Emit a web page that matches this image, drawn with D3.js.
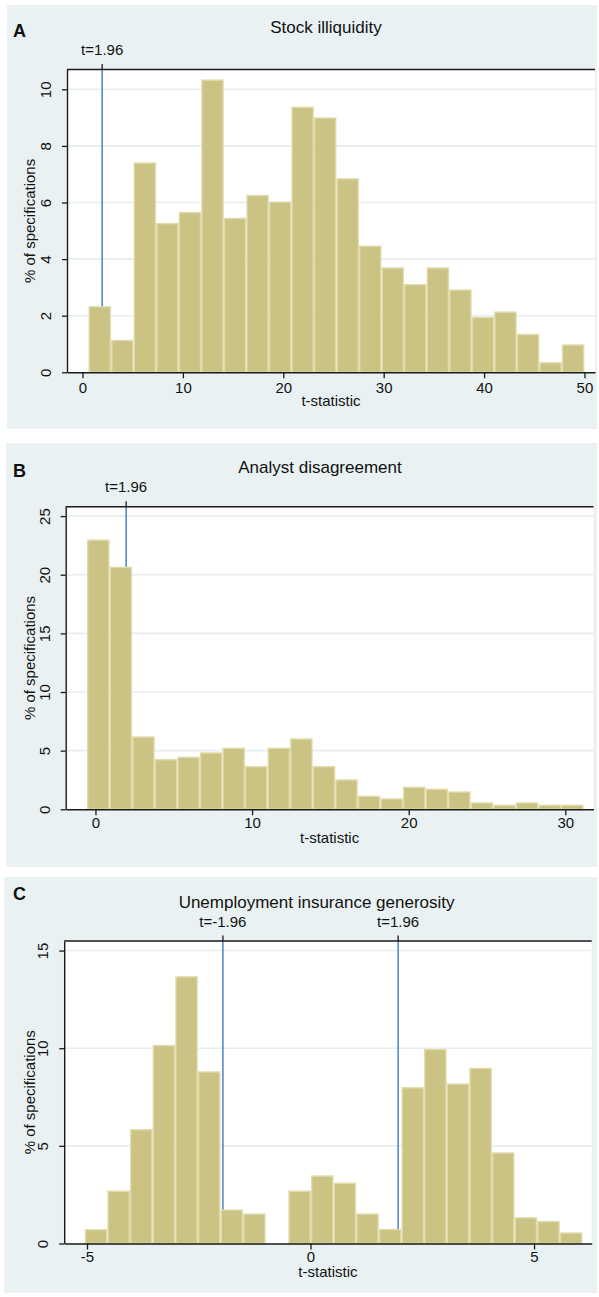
<!DOCTYPE html>
<html><head><meta charset="utf-8">
<script src="https://cdn.jsdelivr.net/npm/d3@7"></script>
<style>
html,body{margin:0;padding:0;background:#fff;}
svg{display:block;}
text{font-family:"Liberation Sans",Arial,Helvetica,sans-serif;fill:#111;}
</style>
</head><body>
<svg id="chart" width="599" height="1297"></svg>
<script>
// ---------- DATA ----------
// Panel A: Stock illiquidity
const illiqBinStart = 0.6;
const illiqBinWidth = 2.245;
const illiqPct = [2.34,1.15,7.42,5.28,5.67,10.35,5.46,6.27,6.04,9.39,9.01,6.86,4.48,3.71,3.12,3.71,2.93,1.96,2.15,1.36,0.36,0.99];
const illiqXTicks = [0,10,20,30,40,50];
const illiqYTicks = [0,2,4,6,8,10];
const illiqCrit = [1.96];

// Panel B: Analyst disagreement
const disagreeBinStart = -0.54;
const disagreeBinWidth = 1.441;
const disagreePct = [23.01,20.68,6.22,4.29,4.49,4.86,5.26,3.69,5.26,6.05,3.69,2.56,1.16,0.94,1.93,1.76,1.53,0.60,0.40,0.60,0.40,0.40];
const disagreeXTicks = [0,10,20,30];
const disagreeYTicks = [0,5,10,15,20,25];
const disagreeCrit = [1.96];

// Panel C: Unemployment insurance generosity
const uiBinStart = -5.05;
const uiBinWidth = 0.506;
const uiPct = [0.74,2.71,5.86,10.17,13.69,8.82,1.75,1.54,0,2.71,3.49,3.12,1.54,0.75,8.01,9.97,8.2,9.0,4.67,1.35,1.16,0.57];
const uiXTicks = [-5,0,5];
const uiYTicks = [0,5,10,15];
const uiCrit = [-1.96,1.96];

const xAxisTitle = "t-statistic";
const yAxisTitle = "% of specifications";

// ---------- LAYOUT ----------
const panels = [
  {letter:"A", title:"Stock illiquidity", values:illiqPct, binStart:illiqBinStart, binWidth:illiqBinWidth,
   xTicks:illiqXTicks, yTicks:illiqYTicks, crit:illiqCrit,
   bg:{x:7,y:5,w:590,h:424}, plot:{l:67,r:595,t:69.5,b:372.3}, xDom:[-1.545,51.05], yMax:10.70,
   letterY:37, titleX:326, titleY:33.3, critY:55, tickY:20.4, xTitleY:406},
  {letter:"B", title:"Analyst disagreement", values:disagreePct, binStart:disagreeBinStart, binWidth:disagreeBinWidth,
   xTicks:disagreeXTicks, yTicks:disagreeYTicks, crit:disagreeCrit,
   bg:{x:6,y:443,w:591,h:424}, plot:{l:65.7,r:593.5,t:506.7,b:809.3}, xDom:[-1.90,31.80], yMax:25.8,
   letterY:476.7, titleX:320, titleY:473.3, critY:492.3, tickY:19.0, xTitleY:842.7},
  {letter:"C", title:"Unemployment insurance generosity", values:uiPct, binStart:uiBinStart, binWidth:uiBinWidth,
   xTicks:uiXTicks, yTicks:uiYTicks, crit:uiCrit,
   bg:{x:4,y:877,w:593,h:416}, plot:{l:64.2,r:591.7,t:941,b:1243.5}, xDom:[-5.51,6.29], yMax:15.49,
   letterY:900, titleX:316.6, titleY:908, critY:926.7, tickY:18.5, xTitleY:1276.7}
];

const svg = d3.select("#chart");
const BG = "#E9F1F3", GRID = "#E6EEF1", BAR = "#CBC384", BAR_EDGE = "#E0DBAC", BLUE = "#4A80CC", INK = "#1a1a1a";
const fmt = d => String(d);

panels.forEach(p => {
  const g = svg.append("g");
  const P = p.plot;
  g.append("rect").attr("x",p.bg.x).attr("y",p.bg.y).attr("width",p.bg.w).attr("height",p.bg.h).attr("fill",BG);
  g.append("rect").attr("x",P.l).attr("y",P.t).attr("width",P.r-P.l).attr("height",P.b-P.t).attr("fill","#fff");

  const xs = d3.scaleLinear().domain(p.xDom).range([P.l,P.r]);
  const ys = d3.scaleLinear().domain([0,p.yMax]).range([P.b,P.t]);

  // grid
  g.selectAll(".grid").data(p.yTicks.filter(v=>v!==0)).enter().append("line")
    .attr("x1",P.l).attr("x2",P.r).attr("y1",d=>ys(d)).attr("y2",d=>ys(d))
    .attr("stroke",GRID).attr("stroke-width",1.6);

  // critical lines (behind bars)
  g.selectAll(".crit").data(p.crit).enter().append("line")
    .attr("x1",d=>xs(d)).attr("x2",d=>xs(d)).attr("y1",P.t).attr("y2",ys(0))
    .attr("stroke",BLUE).attr("stroke-width",1.5);

  // bars
  const bins = p.values.map((v,i)=>({x0:p.binStart+i*p.binWidth, x1:p.binStart+(i+1)*p.binWidth, v}));
  g.selectAll(".bar").data(bins.filter(b=>b.v>0)).enter().append("rect")
    .attr("x",d=>xs(d.x0)+0.7).attr("width",d=>xs(d.x1)-xs(d.x0)-1.4)
    .attr("y",d=>ys(d.v)+0.7).attr("height",d=>ys(0)-ys(d.v)-0.7)
    .attr("fill",BAR).attr("stroke",BAR_EDGE).attr("stroke-width",1.4);

  // top border line
  g.append("line").attr("x1",P.l).attr("x2",P.r).attr("y1",P.t).attr("y2",P.t)
    .attr("stroke",INK).attr("stroke-width",1.6);

  // top ticks + labels for critical values
  g.selectAll(".ctick").data(p.crit).enter().append("line")
    .attr("x1",d=>xs(d)).attr("x2",d=>xs(d)).attr("y1",P.t-5.5).attr("y2",P.t)
    .attr("stroke",INK).attr("stroke-width",1.3);
  g.selectAll(".clab").data(p.crit).enter().append("text")
    .attr("x",d=>xs(d)).attr("y",p.critY).attr("text-anchor","middle")
    .attr("font-size",15).text(d=>"t="+d);

  // y axis
  const ya = g.append("g").attr("transform",`translate(${P.l},0)`)
    .call(d3.axisLeft(ys).tickValues(p.yTicks).tickSize(5).tickSizeOuter(0).tickFormat(fmt));
  ya.select(".domain").attr("stroke",INK).attr("stroke-width",1.4);
  ya.selectAll(".tick line").attr("stroke",INK).attr("stroke-width",1.3);
  ya.selectAll(".tick text").attr("transform","rotate(-90)").attr("x",0).attr("y",-16).attr("dy",null)
    .attr("text-anchor","middle").attr("font-size",15).attr("fill",INK).attr("font-family",null);

  // x axis
  const xa = g.append("g").attr("transform",`translate(0,${P.b})`)
    .call(d3.axisBottom(xs).tickValues(p.xTicks).tickSize(6).tickSizeOuter(0).tickFormat(fmt));
  xa.select(".domain").attr("stroke",INK).attr("stroke-width",1.4);
  xa.selectAll(".tick line").attr("stroke",INK).attr("stroke-width",1.3);
  xa.selectAll(".tick text").attr("y",p.tickY).attr("dy",null).attr("font-size",15).attr("fill",INK).attr("font-family",null);

  // axis titles
  g.append("text").attr("x",(P.l+P.r)/2).attr("y",p.xTitleY).attr("text-anchor","middle")
    .attr("font-size",15).text(xAxisTitle);
  g.append("text").attr("transform",`translate(34.5,${(P.t+P.b)/2}) rotate(-90)`)
    .attr("text-anchor","middle").attr("font-size",15).text(yAxisTitle);

  // panel title + letter
  g.append("text").attr("x",p.titleX).attr("y",p.titleY).attr("text-anchor","middle")
    .attr("font-size",17).text(p.title);
  g.append("text").attr("x",13).attr("y",p.letterY).attr("font-size",18).attr("font-weight","bold")
    .attr("fill","#000").text(p.letter);
});
</script>
</body></html>
